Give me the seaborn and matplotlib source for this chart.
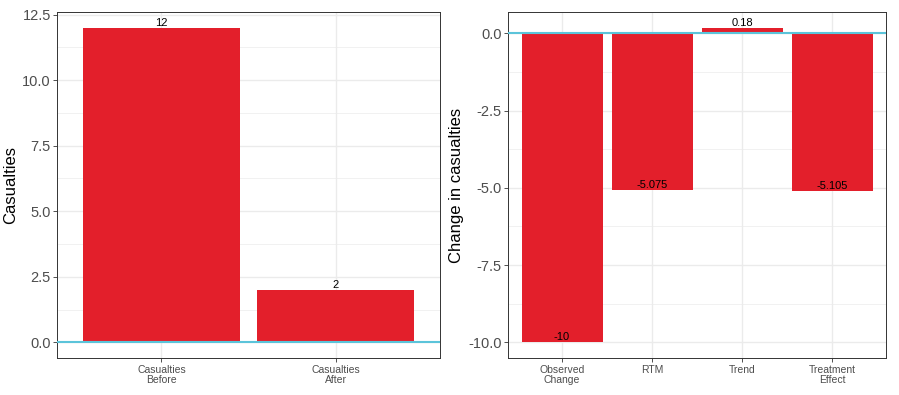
import seaborn as sns
import matplotlib.pyplot as plt
from matplotlib.ticker import MultipleLocator

before_after = ["Casualties\nBefore", "Casualties\nAfter"]
casualties = [12, 2]

components = ["Observed\nChange", "RTM", "Trend", "Treatment\nEffect"]
change = [-10, -5.075, 0.18, -5.105]

BAR = "#E31F2B"
ZERO = "#5BC4DA"

sns.set_theme(style="white")
plt.rcParams["font.family"] = ["Liberation Sans", "DejaVu Sans"]

fig = plt.figure(figsize=(8.99, 3.95), dpi=100)
ax1 = fig.add_axes([57 / 899, 37 / 395, 383 / 899, 346 / 395])
ax2 = fig.add_axes([508 / 899, 37 / 395, 378 / 899, 346 / 395])


def panel(ax, cats, vals, ylabel, major):
    sns.barplot(x=cats, y=vals, color=BAR, width=0.9, saturation=1,
                linewidth=0, ax=ax, zorder=2)
    n = len(cats)
    ax.set_xlim(-0.6, n - 0.4)
    lo, hi = min(min(vals), 0), max(max(vals), 0)
    pad = (hi - lo) * 0.05
    ax.set_ylim(lo - pad, hi + pad)
    ax.yaxis.set_major_locator(MultipleLocator(major))
    ax.yaxis.set_minor_locator(MultipleLocator(major / 2))
    ax.yaxis.set_major_formatter(plt.FuncFormatter(lambda v, p: f"{v:.1f}"))
    ax.grid(True, which="major", color="#EBEBEB", lw=1.0, zorder=0)
    ax.grid(True, which="minor", axis="y", color="#EBEBEB", lw=0.5, zorder=0)
    ax.set_axisbelow(True)
    ax.axhline(0, color=ZERO, lw=1.5, zorder=3)
    for i, v in enumerate(vals):
        ax.text(i, v, f"{v:g}", ha="center", va="bottom", fontsize=8,
                color="black", zorder=4)
    ax.set_ylabel(ylabel, fontsize=12, color="black", labelpad=3)
    ax.set_xlabel("")
    ax.tick_params(axis="y", which="major", labelsize=10.5, labelcolor="#4D4D4D",
                   length=3, width=0.6, color="#333333", left=True, pad=1.5)
    ax.tick_params(axis="y", which="minor", length=0)
    ax.tick_params(axis="x", labelsize=7.5, labelcolor="#4D4D4D",
                   length=3, width=0.6, color="#333333", bottom=True, pad=2)
    for lab in ax.get_xticklabels():
        lab.set_linespacing(0.95)
    for s in ax.spines.values():
        s.set_color("#333333")
        s.set_linewidth(0.7)


panel(ax1, before_after, casualties, "Casualties", 2.5)
panel(ax2, components, change, "Change in casualties", 2.5)

fig.savefig("out.png", dpi=100)
